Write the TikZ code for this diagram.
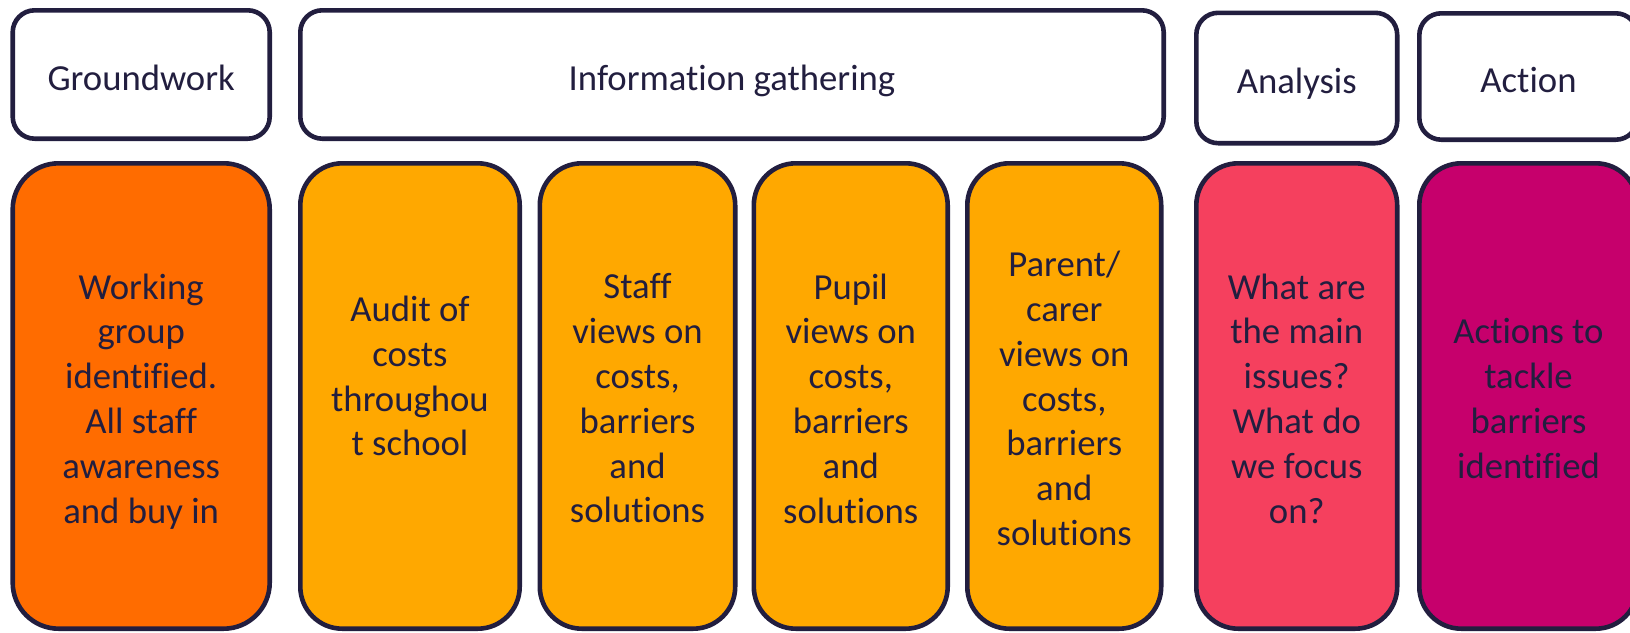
\documentclass[tikz,border=0pt]{standalone}
\usepackage{fontspec}
\setmainfont{Carlito}[Ligatures=NoCommon]
\definecolor{navy}{HTML}{221E3F}
\definecolor{cOrange}{HTML}{FF6C00}
\definecolor{cYellow}{HTML}{FFA800}
\definecolor{cPink}{HTML}{F5405E}
\definecolor{cMagenta}{HTML}{C6006C}
\begin{document}
\begin{tikzpicture}[x=1pt,y=-1pt,
  box/.style={draw=navy, line width=4.6pt, rectangle, inner sep=0pt},
  head/.style={box, fill=white, rounded corners=22pt, minimum height=128.4pt},
  card/.style={box, rounded corners=42pt, minimum height=465.4pt},
  txt/.style={inner sep=0pt, text=navy, align=center,
    font=\fontsize{36.7}{44.8}\selectfont,
    execute at begin node=\strut, execute at end node=\strut},
]
\useasboundingbox (0,0) rectangle (1630,632);
% header row
\node[head, minimum width=257pt] (gw) at (141.2,74.5) {};
\node[head, minimum width=863.4pt] (info) at (732,74.5) {};
\node[head, minimum width=200.9pt, minimum height=130.4pt] (ana) at (1296.75,78) {};
\node[head, minimum width=218.4pt, minimum height=126.4pt] (act) at (1528.5,76.5) {};
\node[txt] (gwt) at ([yshift=-7pt]gw.center) {Groundwork};
\node[txt] (infot) at ([yshift=-7pt]info.center) {Information gathering};
\node[txt] (anat) at ([yshift=-7pt]ana.center) {Analysis};
\node[txt] (actt) at ([yshift=-7pt]act.center) {Action};
% cards
\node[card, fill=cOrange, minimum width=257pt, rounded corners=46pt] (c1) at (141.2,396) {};
\node[card, fill=cYellow, minimum width=219.4pt] (c2) at (410,396) {};
\node[card, fill=cYellow, minimum width=195.4pt] (c3) at (637.5,396) {};
\node[card, fill=cYellow, minimum width=193.9pt] (c4) at (850.75,396) {};
\node[card, fill=cYellow, minimum width=193.9pt] (c5) at (1064.25,396) {};
\node[card, fill=cPink, minimum width=200.9pt] (c6) at (1296.75,396) {};
\node[card, fill=cMagenta, minimum width=218.4pt] (c7) at (1528.5,396) {};
\node[txt] (c1t) at ([yshift=-9pt]c1.center) {Working\\group\\identified.\\All staff\\awareness\\and buy in};
\node[txt] (c2t) at ([yshift=-9pt]c2.center) {Audit of\\costs\\throughou\\t school\\\mbox{}};
\node[txt] (c3t) at ([yshift=-9pt]c3.center) {Staff\\views on\\costs,\\barriers\\and\\solutions};
\node[txt] (c4t) at ([yshift=-9pt]c4.center) {Pupil\\views on\\costs,\\barriers\\and\\solutions};
\node[txt] (c5t) at ([yshift=-9pt]c5.center) {Parent/\\carer\\views on\\costs,\\barriers\\and\\solutions};
\node[txt] (c6t) at ([yshift=-9pt]c6.center) {What are\\the main\\issues?\\What do\\we focus\\on?};
\node[txt] (c7t) at ([yshift=-9pt]c7.center) {Actions to\\tackle\\barriers\\identified};
\end{tikzpicture}
\end{document}
